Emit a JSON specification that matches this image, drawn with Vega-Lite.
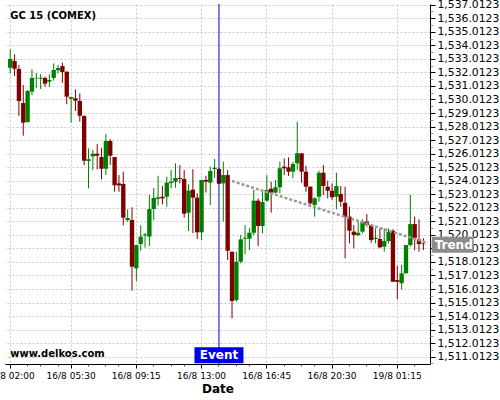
{
  "$schema": "https://vega.github.io/schema/vega-lite/v6.json",
  "width": 425,
  "height": 360,
  "autosize": {"type": "none"},
  "padding": {"left": 5, "top": 4, "right": 70, "bottom": 36},
  "background": "white",
  "config": {
    "font": "DejaVu Sans",
    "view": {"stroke": null},
    "axis": {"labelFont": "DejaVu Sans", "titleFont": "DejaVu Sans"}
  },
  "resolve": {"axis": {"x": "independent", "y": "independent"}},
  "data": {"values": [
    {"t":"16/8 02:00","o":1532.36,"h":1533.72,"l":1531.95,"c":1533.00},
    {"t":"16/8 02:15","o":1532.85,"h":1533.35,"l":1531.75,"c":1532.29},
    {"t":"16/8 02:30","o":1532.26,"h":1532.56,"l":1528.79,"c":1529.90},
    {"t":"16/8 02:45","o":1529.75,"h":1531.08,"l":1527.34,"c":1528.30},
    {"t":"16/8 03:00","o":1528.35,"h":1530.71,"l":1528.30,"c":1530.64},
    {"t":"16/8 03:15","o":1530.59,"h":1532.24,"l":1530.34,"c":1531.60},
    {"t":"16/8 03:30","o":1531.58,"h":1531.97,"l":1530.86,"c":1531.62},
    {"t":"16/8 03:45","o":1531.55,"h":1531.89,"l":1530.79,"c":1531.62},
    {"t":"16/8 04:00","o":1531.60,"h":1531.70,"l":1530.96,"c":1531.18},
    {"t":"16/8 04:15","o":1531.33,"h":1531.87,"l":1530.93,"c":1531.45},
    {"t":"16/8 04:30","o":1531.60,"h":1532.68,"l":1531.40,"c":1532.19},
    {"t":"16/8 04:45","o":1532.17,"h":1532.56,"l":1531.95,"c":1532.34},
    {"t":"16/8 05:00","o":1532.48,"h":1532.73,"l":1531.25,"c":1532.04},
    {"t":"16/8 05:15","o":1532.06,"h":1532.10,"l":1529.66,"c":1530.22},
    {"t":"16/8 05:30","o":1530.07,"h":1530.22,"l":1528.30,"c":1530.20},
    {"t":"16/8 05:45","o":1530.10,"h":1530.76,"l":1529.16,"c":1529.92},
    {"t":"16/8 06:00","o":1529.90,"h":1530.47,"l":1528.37,"c":1528.81},
    {"t":"16/8 06:15","o":1528.79,"h":1528.85,"l":1525.17,"c":1525.49},
    {"t":"16/8 06:30","o":1525.47,"h":1526.41,"l":1523.45,"c":1525.60},
    {"t":"16/8 06:45","o":1525.81,"h":1526.28,"l":1524.80,"c":1526.01},
    {"t":"16/8 07:00","o":1526.01,"h":1526.72,"l":1524.85,"c":1525.86},
    {"t":"16/8 07:15","o":1525.76,"h":1526.45,"l":1524.12,"c":1524.90},
    {"t":"16/8 07:30","o":1524.90,"h":1527.46,"l":1524.43,"c":1526.95},
    {"t":"16/8 07:45","o":1526.95,"h":1527.09,"l":1525.17,"c":1525.86},
    {"t":"16/8 08:00","o":1525.76,"h":1525.76,"l":1523.20,"c":1523.67},
    {"t":"16/8 08:15","o":1523.82,"h":1524.43,"l":1523.20,"c":1523.67},
    {"t":"16/8 08:30","o":1523.77,"h":1524.68,"l":1520.72,"c":1521.28},
    {"t":"16/8 08:45","o":1521.11,"h":1521.90,"l":1520.98,"c":1521.26},
    {"t":"16/8 09:00","o":1521.11,"h":1522.05,"l":1515.89,"c":1517.66},
    {"t":"16/8 09:15","o":1517.54,"h":1519.30,"l":1516.60,"c":1519.26},
    {"t":"16/8 09:30","o":1519.34,"h":1520.72,"l":1518.84,"c":1519.88},
    {"t":"16/8 09:45","o":1519.97,"h":1520.15,"l":1519.07,"c":1520.05},
    {"t":"16/8 10:00","o":1519.88,"h":1522.96,"l":1519.19,"c":1521.92},
    {"t":"16/8 10:15","o":1521.92,"h":1523.47,"l":1521.11,"c":1522.74},
    {"t":"16/8 10:30","o":1522.68,"h":1524.38,"l":1522.17,"c":1522.79},
    {"t":"16/8 10:45","o":1522.83,"h":1523.62,"l":1522.27,"c":1522.71},
    {"t":"16/8 11:00","o":1522.83,"h":1524.31,"l":1522.09,"c":1523.87},
    {"t":"16/8 11:15","o":1523.84,"h":1524.80,"l":1523.45,"c":1523.94},
    {"t":"16/8 11:30","o":1523.94,"h":1525.30,"l":1523.50,"c":1524.21},
    {"t":"16/8 11:45","o":1524.21,"h":1525.17,"l":1523.82,"c":1524.14},
    {"t":"16/8 12:00","o":1524.14,"h":1524.80,"l":1521.28,"c":1521.58},
    {"t":"16/8 12:15","o":1521.65,"h":1523.75,"l":1520.30,"c":1523.28},
    {"t":"16/8 12:30","o":1523.35,"h":1524.86,"l":1520.13,"c":1522.76},
    {"t":"16/8 12:45","o":1522.76,"h":1523.08,"l":1519.71,"c":1520.20},
    {"t":"16/8 13:00","o":1520.20,"h":1524.07,"l":1519.63,"c":1524.07},
    {"t":"16/8 13:15","o":1524.07,"h":1524.38,"l":1523.13,"c":1523.94},
    {"t":"16/8 13:30","o":1523.87,"h":1525.05,"l":1522.22,"c":1524.73},
    {"t":"16/8 13:45","o":1524.88,"h":1525.62,"l":1524.23,"c":1524.97},
    {"t":"16/8 14:00","o":1524.88,"h":1524.95,"l":1523.77,"c":1523.79},
    {"t":"16/8 14:15","o":1523.82,"h":1525.42,"l":1520.99,"c":1524.43},
    {"t":"16/8 14:30","o":1524.43,"h":1524.80,"l":1518.16,"c":1518.84},
    {"t":"16/8 14:45","o":1518.77,"h":1518.77,"l":1513.85,"c":1515.13},
    {"t":"16/8 15:00","o":1515.20,"h":1518.77,"l":1515.08,"c":1518.03},
    {"t":"16/8 15:15","o":1518.03,"h":1520.00,"l":1517.91,"c":1519.68},
    {"t":"16/8 15:30","o":1519.73,"h":1520.74,"l":1518.58,"c":1519.80},
    {"t":"16/8 15:45","o":1519.73,"h":1520.50,"l":1518.89,"c":1520.17},
    {"t":"16/8 16:00","o":1520.17,"h":1523.33,"l":1520.00,"c":1522.54},
    {"t":"16/8 16:15","o":1522.54,"h":1522.71,"l":1519.19,"c":1520.67},
    {"t":"16/8 16:30","o":1520.67,"h":1523.33,"l":1520.13,"c":1522.44},
    {"t":"16/8 16:45","o":1522.54,"h":1524.43,"l":1522.46,"c":1523.33},
    {"t":"16/8 17:00","o":1523.42,"h":1523.94,"l":1521.65,"c":1523.13},
    {"t":"16/8 17:15","o":1523.13,"h":1524.07,"l":1523.08,"c":1523.53},
    {"t":"16/8 17:30","o":1523.53,"h":1525.42,"l":1523.08,"c":1524.93},
    {"t":"16/8 17:45","o":1525.05,"h":1525.67,"l":1524.43,"c":1524.93},
    {"t":"16/8 18:00","o":1525.00,"h":1525.74,"l":1524.36,"c":1524.68},
    {"t":"16/8 18:15","o":1524.68,"h":1525.42,"l":1524.19,"c":1525.25},
    {"t":"16/8 18:30","o":1525.30,"h":1528.37,"l":1524.80,"c":1526.04},
    {"t":"16/8 18:45","o":1526.04,"h":1526.05,"l":1523.86,"c":1524.68},
    {"t":"16/8 19:00","o":1524.68,"h":1525.12,"l":1523.20,"c":1523.57},
    {"t":"16/8 19:15","o":1523.57,"h":1523.60,"l":1522.09,"c":1522.34},
    {"t":"16/8 19:30","o":1522.22,"h":1522.80,"l":1521.36,"c":1522.71},
    {"t":"16/8 19:45","o":1522.83,"h":1524.75,"l":1522.46,"c":1524.60},
    {"t":"16/8 20:00","o":1524.60,"h":1525.17,"l":1522.96,"c":1523.62},
    {"t":"16/8 20:15","o":1523.57,"h":1524.01,"l":1522.71,"c":1523.27},
    {"t":"16/8 20:30","o":1523.27,"h":1523.82,"l":1522.60,"c":1522.79},
    {"t":"16/8 20:45","o":1522.83,"h":1524.60,"l":1521.90,"c":1523.62},
    {"t":"16/8 21:00","o":1523.03,"h":1523.62,"l":1522.09,"c":1522.46},
    {"t":"16/8 21:15","o":1522.38,"h":1523.57,"l":1518.28,"c":1521.36},
    {"t":"16/8 21:30","o":1521.36,"h":1522.09,"l":1519.39,"c":1520.32},
    {"t":"16/8 21:45","o":1520.25,"h":1520.74,"l":1519.02,"c":1520.00},
    {"t":"16/8 22:00","o":1519.98,"h":1521.11,"l":1519.93,"c":1520.17},
    {"t":"16/8 22:15","o":1520.25,"h":1521.16,"l":1520.13,"c":1520.99},
    {"t":"16/8 22:30","o":1520.99,"h":1521.55,"l":1520.62,"c":1520.74},
    {"t":"16/8 22:45","o":1520.74,"h":1520.74,"l":1519.43,"c":1519.63},
    {"t":"19/8 00:00","o":1519.71,"h":1520.50,"l":1519.39,"c":1519.80},
    {"t":"19/8 00:15","o":1519.71,"h":1520.50,"l":1519.02,"c":1519.09},
    {"t":"19/8 00:30","o":1519.14,"h":1520.50,"l":1518.77,"c":1519.56},
    {"t":"19/8 00:45","o":1519.56,"h":1520.50,"l":1519.39,"c":1520.25},
    {"t":"19/8 01:00","o":1520.32,"h":1520.43,"l":1516.55,"c":1516.55},
    {"t":"19/8 01:15","o":1516.68,"h":1517.71,"l":1515.25,"c":1516.55},
    {"t":"19/8 01:30","o":1516.44,"h":1517.79,"l":1515.99,"c":1517.17},
    {"t":"19/8 01:45","o":1517.17,"h":1519.26,"l":1517.17,"c":1519.26},
    {"t":"19/8 02:00","o":1519.26,"h":1522.96,"l":1519.14,"c":1520.81},
    {"t":"19/8 02:15","o":1520.81,"h":1521.36,"l":1518.89,"c":1519.76},
    {"t":"19/8 02:30","o":1519.68,"h":1521.16,"l":1518.77,"c":1519.34},
    {"t":"19/8 02:45","o":1519.36,"h":1519.76,"l":1518.89,"c":1519.32}
  ]},
  "layer": [
    {
      "mark": {"type": "rule", "strokeWidth": 1},
      "encoding": {
        "x": {
          "field": "t", "type": "ordinal",
          "scale": {"paddingInner": 0, "paddingOuter": 0.36, "align": 0.97},
          "axis": {
            "orient": "bottom",
            "values": ["16/8 02:00","16/8 05:30","16/8 09:15","16/8 13:00","16/8 16:45","16/8 20:30","19/8 01:15"],
            "title": "Date", "titleFontSize": 12, "titleFontWeight": "bold", "titleColor": "black", "titlePadding": 3,
            "labelFontSize": 9, "labelColor": "black", "labelAngle": 0, "labelOverlap": false, "labelPadding": 3,
            "tickSize": 4, "tickColor": "black", "domainColor": "black",
            "grid": true, "gridDash": [2, 2], "gridColor": "#c8c8c8"
          }
        },
        "y": {
          "field": "l", "type": "quantitative",
          "scale": {"domain": [1510.475, 1537.065], "nice": false, "zero": false},
          "axis": {
            "orient": "right", "title": null, "format": ",.4f", "tickCount": 40,
            "values": [1511.0123,1512.0123,1513.0123,1514.0123,1515.0123,1516.0123,1517.0123,1518.0123,1519.0123,1520.0123,1521.0123,1522.0123,1523.0123,1524.0123,1525.0123,1526.0123,1527.0123,1528.0123,1529.0123,1530.0123,1531.0123,1532.0123,1533.0123,1534.0123,1535.0123,1536.0123,1537.0123],
            "labelFontSize": 10.8, "labelColor": "black", "labelPadding": 2, "labelOverlap": false, "labelBound": false, "labelFlush": false,
            "tickSize": 5, "tickColor": "black", "domainColor": "black",
            "grid": true, "gridDash": [2, 2], "gridColor": "#c8c8c8"
          }
        },
        "y2": {"field": "h"},
        "color": {"condition": {"test": "datum.c >= datum.o", "value": "#008000"}, "value": "#800000"}
      }
    },
    {
      "mark": {"type": "bar"},
      "encoding": {
        "x": {
          "field": "t", "type": "ordinal",
          "axis": {
            "orient": "bottom", "title": null, "labels": false, "grid": false, "domain": false,
            "values": ["16/8 03:00","16/8 03:45","16/8 04:45","16/8 06:30","16/8 07:30","16/8 08:15","16/8 10:15","16/8 11:15","16/8 12:00","16/8 14:00","16/8 15:00","16/8 15:45","16/8 17:45","16/8 18:45","16/8 19:30","16/8 21:30","16/8 22:30","19/8 00:15","19/8 02:15"],
            "tickSize": 2, "tickColor": "#555555"
          }
        },
        "y": {
          "field": "o", "type": "quantitative",
          "axis": {
            "orient": "right", "title": null, "labels": false, "grid": false, "domain": false, "tickCount": 60,
            "values": [1510.5123,1511.5123,1512.5123,1513.5123,1514.5123,1515.5123,1516.5123,1517.5123,1518.5123,1519.5123,1520.5123,1521.5123,1522.5123,1523.5123,1524.5123,1525.5123,1526.5123,1527.5123,1528.5123,1529.5123,1530.5123,1531.5123,1532.5123,1533.5123,1534.5123,1535.5123,1536.5123],
            "tickSize": 3, "tickColor": "#999999"
          }
        },
        "y2": {"field": "c"},
        "color": {"condition": {"test": "datum.c >= datum.o", "value": "#008000"}, "value": "#800000"}
      }
    },
    {
      "data": {"values": [
        {"t": "16/8 14:45", "v": 1523.99},
        {"t": "19/8 03:00", "v": 1519.41}
      ]},
      "mark": {"type": "line", "color": "#9a9a9a", "strokeWidth": 2.5, "strokeDash": [3, 2]},
      "encoding": {
        "x": {"field": "t", "type": "ordinal", "axis": null},
        "y": {"field": "v", "type": "quantitative", "axis": null}
      }
    },
    {
      "data": {"values": [{"t": "16/8 14:00", "v": 1511.12, "label": "Event"}]},
      "layer": [
        {
          "mark": {"type": "rule", "color": "#0000c0", "strokeWidth": 1},
          "encoding": {"x": {"field": "t", "type": "ordinal", "axis": null}}
        },
        {
          "mark": {"type": "point", "shape": "M-1,-0.327H1V0.327H-1Z", "size": 2401, "filled": true, "opacity": 1, "color": "#0000ee", "strokeWidth": 0},
          "encoding": {
            "x": {"field": "t", "type": "ordinal", "axis": null},
            "y": {"field": "v", "type": "quantitative", "axis": null}
          }
        },
        {
          "mark": {"type": "text", "color": "white", "fontSize": 12, "fontWeight": "bold", "align": "center", "baseline": "middle"},
          "encoding": {
            "x": {"field": "t", "type": "ordinal", "axis": null},
            "y": {"field": "v", "type": "quantitative", "axis": null},
            "text": {"field": "label"}
          }
        }
      ]
    },
    {
      "data": {"values": [{"t": "19/8 03:00", "v": 1519.28, "label": "Trend"}]},
      "layer": [
        {
          "mark": {"type": "point", "shape": "M-1,-0.381H1V0.381H-1Z", "size": 1764, "filled": true, "opacity": 1, "color": "#8c8c8c", "strokeWidth": 0, "xOffset": 25},
          "encoding": {
            "x": {"field": "t", "type": "ordinal", "axis": null},
            "y": {"field": "v", "type": "quantitative", "axis": null}
          }
        },
        {
          "mark": {"type": "text", "color": "white", "fontSize": 12, "fontWeight": "bold", "align": "center", "baseline": "middle", "dx": 26},
          "encoding": {
            "x": {"field": "t", "type": "ordinal", "axis": null},
            "y": {"field": "v", "type": "quantitative", "axis": null},
            "text": {"field": "label"}
          }
        }
      ]
    },
    {
      "data": {"values": [
        {"t": "16/8 02:00", "v": 1535.93, "label": "GC 15 (COMEX)"},
        {"t": "16/8 02:00", "v": 1510.97, "label": "www.delkos.com"}
      ]},
      "mark": {"type": "text", "color": "black", "fontSize": 10, "fontWeight": "bold", "align": "left", "baseline": "alphabetic"},
      "encoding": {
        "x": {"field": "t", "type": "ordinal", "axis": null},
        "y": {"field": "v", "type": "quantitative", "axis": null},
        "text": {"field": "label"}
      }
    }
  ]
}
